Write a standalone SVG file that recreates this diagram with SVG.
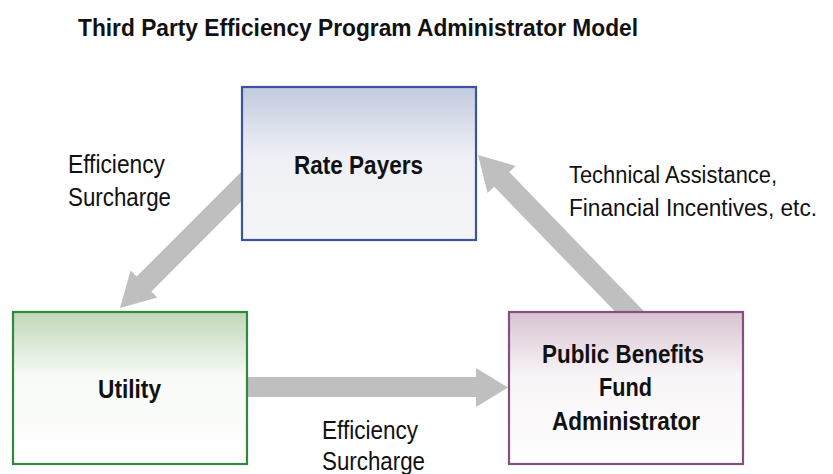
<svg xmlns="http://www.w3.org/2000/svg" width="833" height="474" viewBox="0 0 833 474">
<defs>
<linearGradient id="gBlue" x1="0" y1="0" x2="0" y2="1">
<stop offset="0" stop-color="#c3cadf"/>
<stop offset="0.45" stop-color="#eef0f5"/>
<stop offset="1" stop-color="#f4f5f8"/>
</linearGradient>
<linearGradient id="gGreen" x1="0" y1="0" x2="0" y2="1">
<stop offset="0" stop-color="#bfd8b6"/>
<stop offset="0.42" stop-color="#f7faf6"/>
<stop offset="1" stop-color="#ffffff"/>
</linearGradient>
<linearGradient id="gPurple" x1="0" y1="0" x2="0" y2="1">
<stop offset="0" stop-color="#d8c3d1"/>
<stop offset="0.42" stop-color="#f8f4f7"/>
<stop offset="1" stop-color="#ffffff"/>
</linearGradient>
</defs>
<style>
.arrow{fill:#bfbfbf;stroke:none}
.box{stroke-width:2.2}
.t{font-family:"Liberation Sans Narrow","Liberation Sans",Arial,sans-serif;fill:#111}
.b{font-weight:bold}
.lbl{font-size:25px}
.lbr{font-size:23px}
.node{font-size:26px;font-weight:bold}
</style>
<rect width="833" height="474" fill="#ffffff"/>
<text id="title" class="t b" x="78" y="36" font-size="23" textLength="560" lengthAdjust="spacingAndGlyphs">Third Party Efficiency Program Administrator Model</text>
<g id="connectors">
<polygon class="arrow" points="254.6,158.6 269.4,173.4 151.4,291.4 157.4,297.4 120,308 130.6,270.6 136.6,276.6"/>
<polygon class="arrow" points="478,155 515.7,165.9 509.2,172.1 649,316.5 634,331.1 494.1,186.7 487.6,193"/>
<polygon class="arrow" points="240,377 476,377 476,368 508,387.5 476,407 476,397 240,397"/>
</g>
<g id="label-left">
<text class="t lbl" x="68" y="173" textLength="97" lengthAdjust="spacingAndGlyphs">Efficiency</text>
<text class="t lbl" x="68" y="206" textLength="103" lengthAdjust="spacingAndGlyphs">Surcharge</text>
</g>
<g id="label-bottom">
<text class="t lbl" x="322" y="439" textLength="96" lengthAdjust="spacingAndGlyphs">Efficiency</text>
<text class="t lbl" x="322" y="470" textLength="103" lengthAdjust="spacingAndGlyphs">Surcharge</text>
</g>
<g id="label-right">
<text class="t lbr" x="569" y="183" textLength="208" lengthAdjust="spacingAndGlyphs">Technical Assistance,</text>
<text class="t lbr" x="569" y="216" textLength="248" lengthAdjust="spacingAndGlyphs">Financial Incentives, etc.</text>
</g>
<g id="rate-payers">
<rect class="box" x="242" y="87" width="234" height="153" fill="url(#gBlue)" stroke="#3b54a0"/>
<text class="t node" x="294" y="174" textLength="129" lengthAdjust="spacingAndGlyphs">Rate Payers</text>
</g>
<g id="utility">
<rect class="box" x="13" y="312" width="234" height="152" fill="url(#gGreen)" stroke="#2f8a40"/>
<text class="t node" x="98" y="398" textLength="63" lengthAdjust="spacingAndGlyphs">Utility</text>
</g>
<g id="pbfa">
<rect class="box" x="509" y="312" width="234" height="152" fill="url(#gPurple)" stroke="#84507e"/>
<text class="t node" x="542" y="363" textLength="162" lengthAdjust="spacingAndGlyphs">Public Benefits</text>
<text class="t node" x="599" y="396" textLength="53" lengthAdjust="spacingAndGlyphs">Fund</text>
<text class="t node" x="552" y="430" textLength="148" lengthAdjust="spacingAndGlyphs">Administrator</text>
</g>
</svg>
